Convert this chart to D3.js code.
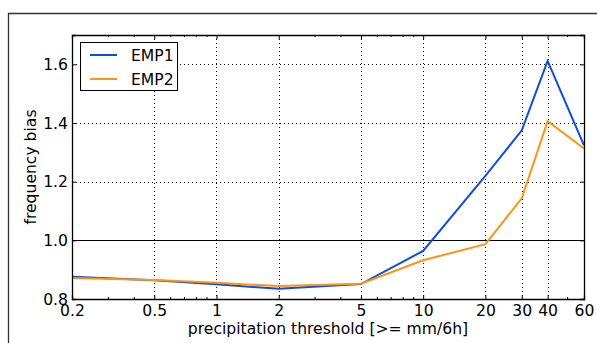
<!DOCTYPE html>
<html>
<head>
<meta charset="utf-8">
<script src="https://cdn.jsdelivr.net/npm/d3@7"></script>
<style>
  body { margin: 0; background: #fff; }
  text { font-family: "DejaVu Sans", sans-serif; }
</style>
</head>
<body>
<div id="chart"></div>
<script>
// thresholds and series values
var thresholds = [0.2, 0.5, 1, 2, 5, 10, 20, 30, 40, 60];
var emp1 = [0.876, 0.864, 0.850, 0.835, 0.851, 0.964, 1.220, 1.375, 1.612, 1.324];
var emp2 = [0.872, 0.865, 0.855, 0.844, 0.852, 0.932, 0.987, 1.143, 1.406, 1.313];
var xTicks = [0.2, 0.5, 1, 2, 5, 10, 20, 30, 40, 60];
var xMinor = [0.3, 0.4, 0.6, 0.7, 0.8, 0.9, 3, 4, 6, 7, 8, 9, 50];
var yTicks = [0.8, 1.0, 1.2, 1.4, 1.6];
var seriesNames = ["EMP1", "EMP2"];
var seriesColors = ["#0a4de0", "#ff9410"];

var W = 597, H = 343;
var fs = 15.6;
var margin = {top: 35, right: 13, bottom: 44, left: 72},
    width = W - margin.left - margin.right,
    height = H - margin.top - margin.bottom;

var svg = d3.select("#chart").append("svg")
    .attr("width", W).attr("height", H);

// figure frame (partly cut off)
svg.append("path")
    .attr("d", "M8.5," + H + "V13.5H" + W)
    .attr("fill", "none").attr("stroke", "#333").attr("stroke-width", 1.3);

var g = svg.append("g")
    .attr("transform", "translate(" + margin.left + "," + margin.top + ")");

var x = d3.scaleLog().domain([0.2, 60]).range([0, width]);
var y = d3.scaleLinear().domain([0.8, 1.7]).range([height, 0]);

// dotted grid
g.selectAll(".vgrid").data(xTicks.slice(1, -1)).enter().append("line")
    .attr("x1", function(d) { return Math.round(x(d)) + 0.5; })
    .attr("x2", function(d) { return Math.round(x(d)) + 0.5; })
    .attr("y1", 0).attr("y2", height)
    .attr("stroke", "#000").attr("stroke-width", 1).attr("stroke-dasharray", "1,3");
g.selectAll(".hgrid").data(yTicks.filter(function(d) { return d != 0.8 && d != 1.0; })).enter().append("line")
    .attr("x1", 0).attr("x2", width)
    .attr("y1", function(d) { return Math.round(y(d)) + 0.5; })
    .attr("y2", function(d) { return Math.round(y(d)) + 0.5; })
    .attr("stroke", "#000").attr("stroke-width", 1).attr("stroke-dasharray", "1,3");

// reference line at 1.0
g.append("line")
    .attr("x1", 0).attr("x2", width)
    .attr("y1", Math.round(y(1.0)) + 0.5).attr("y2", Math.round(y(1.0)) + 0.5)
    .attr("stroke", "#000").attr("stroke-width", 1.2);

// lines
var line = d3.line()
    .x(function(d, i) { return x(thresholds[i]); })
    .y(function(d) { return y(d); });

[emp1, emp2].forEach(function(s, k) {
    g.append("path").datum(s)
        .attr("d", line)
        .attr("fill", "none")
        .attr("stroke", seriesColors[k])
        .attr("stroke-width", 2)
        .attr("stroke-linejoin", "miter");
});

// axes (ticks inward, on all sides)
var fmtX = function(d) { return d3.format("~g")(d); };
var axBottom = g.append("g").attr("transform", "translate(0," + height + ")")
    .call(d3.axisBottom(x).tickValues(xTicks).tickFormat(fmtX).tickSize(-4).tickPadding(6));
axBottom.append("g").selectAll("line").data(xMinor).enter().append("line")
    .attr("x1", function(d) { return x(d); }).attr("x2", function(d) { return x(d); })
    .attr("y1", 0).attr("y2", -2).attr("stroke", "#000");
var axTop = g.append("g")
    .call(d3.axisTop(x).tickValues(xTicks).tickFormat("").tickSize(-4));
axTop.append("g").selectAll("line").data(xMinor).enter().append("line")
    .attr("x1", function(d) { return x(d); }).attr("x2", function(d) { return x(d); })
    .attr("y1", 0).attr("y2", 2).attr("stroke", "#000");
g.append("g")
    .call(d3.axisLeft(y).tickValues(yTicks).tickFormat(d3.format(".1f")).tickSize(-4).tickPadding(4));
g.append("g").attr("transform", "translate(" + width + ",0)")
    .call(d3.axisRight(y).tickValues(yTicks).tickFormat("").tickSize(-4));

g.selectAll(".domain").attr("stroke", "#000").attr("stroke-width", 1.3);
g.selectAll(".tick text").attr("font-size", fs).attr("fill", "#000")
    .style("font-family", "DejaVu Sans");

// axis labels
g.append("text")
    .attr("x", width / 2).attr("y", height + 35)
    .attr("text-anchor", "middle").attr("font-size", fs)
    .text("precipitation threshold [>= mm/6h]");
g.append("text")
    .attr("transform", "translate(" + (-36) + "," + (height / 2) + ") rotate(-90)")
    .attr("text-anchor", "middle").attr("font-size", fs)
    .text("frequency bias");

// legend
var legend = g.append("g").attr("transform", "translate(8,7)");
legend.append("rect")
    .attr("x", 0.5).attr("y", 0.5).attr("width", 97).attr("height", 48)
    .attr("fill", "#fff").attr("stroke", "#000").attr("stroke-width", 1);
seriesNames.forEach(function(n, k) {
    var ly = 13 + k * 24;
    legend.append("line")
        .attr("x1", 10).attr("x2", 37).attr("y1", ly).attr("y2", ly)
        .attr("stroke", seriesColors[k]).attr("stroke-width", 2);
    legend.append("text")
        .attr("x", 51).attr("y", ly + 6)
        .attr("font-size", fs).text(n);
});
</script>
</body>
</html>
